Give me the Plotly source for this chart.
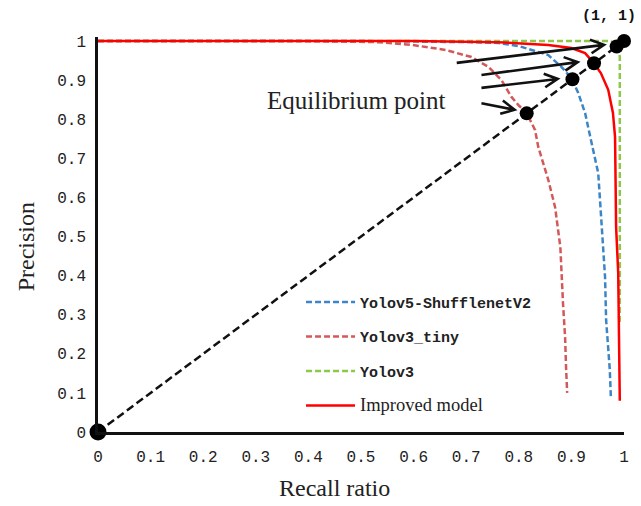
import math
import plotly.graph_objects as go

# ---------------- data ----------------
recall_v5 = [0, 0.50, 0.710, 0.761, 0.80, 0.856, 0.881, 0.900, 0.913, 0.926, 0.935, 0.951, 0.956, 0.960, 0.964, 0.966, 0.973, 0.975]
prec_v5 = [1, 1.0, 0.997, 0.995, 0.987, 0.964, 0.934, 0.905, 0.867, 0.816, 0.760, 0.662, 0.560, 0.473, 0.396, 0.286, 0.159, 0.09]

recall_tiny = [0, 0.38, 0.534, 0.597, 0.661, 0.710, 0.742, 0.767, 0.786, 0.800, 0.814, 0.831, 0.837, 0.856, 0.869, 0.879, 0.884, 0.888, 0.890, 0.892]
prec_tiny = [1, 1.0, 0.997, 0.990, 0.977, 0.959, 0.934, 0.900, 0.857, 0.835, 0.818, 0.772, 0.729, 0.645, 0.575, 0.473, 0.330, 0.243, 0.159, 0.10]

recall_v3 = [0, 0.975, 0.988, 0.992, 0.992]
prec_v3 = [1, 1.0, 0.990, 0.960, 0.28]

recall_imp = [0, 0.60, 0.761, 0.856, 0.900, 0.926, 0.941, 0.956, 0.970, 0.979, 0.983, 0.984, 0.985, 0.989, 0.992]
prec_imp = [1, 1.0, 0.997, 0.990, 0.982, 0.969, 0.946, 0.918, 0.875, 0.816, 0.754, 0.645, 0.524, 0.407, 0.08]

diag_x = [0, 1]
diag_y = [0, 1]

eq_recall = [0, 0.815, 0.902, 0.943, 0.986, 1.0]
eq_prec = [0, 0.815, 0.902, 0.943, 0.986, 1.0]

names = ["Yolov5-ShufflenetV2", "Yolov3_tiny", "Yolov3", "Improved model"]

# arrows: (tail_x, tail_y, tip_x, tip_y) in data units
arrows = [
    (0.682, 0.944, 0.962, 0.990),
    (0.729, 0.913, 0.912, 0.946),
    (0.729, 0.880, 0.874, 0.903),
    (0.729, 0.841, 0.792, 0.824),
]

# ---------------- figure ----------------
MONO = "Liberation Mono"
SERIF = "Liberation Serif"

fig = go.Figure()

fig.add_trace(go.Scatter(x=diag_x, y=diag_y, mode="lines", showlegend=False,
                         line=dict(color="#111111", width=2.5, dash="8px,4px"), hoverinfo="skip"))

fig.add_trace(go.Scatter(x=recall_v5, y=prec_v5, mode="lines", name=names[0], legendgroup="a",
                         line=dict(color="#3d85c6", width=2.5, dash="6px,3px")))
fig.add_trace(go.Scatter(x=recall_tiny, y=prec_tiny, mode="lines", name=names[1], legendgroup="b",
                         line=dict(color="#d45858", width=2.5, dash="6px,3px")))
fig.add_trace(go.Scatter(x=recall_v3, y=prec_v3, mode="lines", name=names[2], legendgroup="c",
                         line=dict(color="#8cc94a", width=2.5, dash="6px,3px")))
fig.add_trace(go.Scatter(x=recall_imp, y=prec_imp, mode="lines",
                         name='<span style="font-family:Liberation Serif;font-weight:normal;font-size:18.5px">' + names[3] + '</span>',
                         legendgroup="d",
                         line=dict(color="#ff0000", width=2.5)))

fig.add_trace(go.Scatter(x=eq_recall, y=eq_prec, mode="markers", showlegend=False, cliponaxis=False,
                         marker=dict(color="#000000", opacity=1, line=dict(width=0),
                                     size=[17, 14, 14, 14, 14, 14]), hoverinfo="skip"))

# arrows drawn as shapes (shaft + open chevron), geometry computed in pixel space
SX, SY = 528.0, 391.0
L, TH = 15.0, math.radians(27)
shapes = []
for tx, ty, hx, hy in arrows:
    ux, uy = (hx - tx) * SX, (hy - ty) * SY
    n = math.hypot(ux, uy)
    dx, dy = ux / n, uy / n
    arms = []
    for s in (1, -1):
        c, si = math.cos(s * TH), math.sin(s * TH)
        rx, ry = dx * c - dy * si, dx * si + dy * c
        arms.append((hx - L * rx / SX, hy - L * ry / SY))
    path = (f"M{tx},{ty} L{hx},{hy} M{arms[0][0]},{arms[0][1]} L{hx},{hy} "
            f"L{arms[1][0]},{arms[1][1]}")
    shapes.append(dict(type="path", path=path, xref="x", yref="y",
                       line=dict(color="#111111", width=2.6)))

annotations = [
    dict(text="Equilibrium point", x=0.318, y=0.848, xref="x", yref="y", showarrow=False,
         xanchor="left", yanchor="middle", font=dict(family=SERIF, size=25, color="#222222")),
    dict(text="(1, 1)", x=1.027, y=1.051, xref="paper", yref="paper", showarrow=False,
         xanchor="right", yanchor="middle", font=dict(family=MONO, size=15, color="#111111", weight="bold")),
    dict(text="Precision", x=-0.137, y=0.47, xref="paper", yref="paper", showarrow=False,
         textangle=-90, xanchor="center", yanchor="middle",
         font=dict(family=SERIF, size=24, color="#222222")),
    dict(text="Recall ratio", x=0.449, y=-0.142, xref="paper", yref="paper", showarrow=False,
         xanchor="center", yanchor="middle", font=dict(family=SERIF, size=24, color="#222222")),
]

fig.update_layout(
    width=641, height=506,
    margin=dict(l=98, r=15, t=37, b=74),
    paper_bgcolor="white", plot_bgcolor="white",
    shapes=shapes, annotations=annotations,
    legend=dict(x=0.386, y=0.37, xanchor="left", yanchor="top",
                bgcolor="rgba(0,0,0,0)", tracegroupgap=12, itemwidth=49,
                font=dict(family=MONO, size=15, color="#222222", weight="bold")),
    xaxis=dict(range=[0, 1], tick0=0, dtick=0.1, showgrid=False, zeroline=False,
               showline=True, linecolor="#111111", linewidth=2.5,
               ticks="outside", ticklen=8, tickcolor="rgba(0,0,0,0)",
               tickfont=dict(family=MONO, size=16, color="#222222")),
    yaxis=dict(range=[0, 1.0102], tick0=0, dtick=0.1, showgrid=False, zeroline=False,
               showline=True, linecolor="#111111", linewidth=2.5,
               ticks="outside", ticklen=6, tickcolor="rgba(0,0,0,0)",
               tickfont=dict(family=MONO, size=16, color="#222222")),
)

fig.write_html("out.html", config={"displayModeBar": False},
               post_script="document.body.style.margin='0';")
